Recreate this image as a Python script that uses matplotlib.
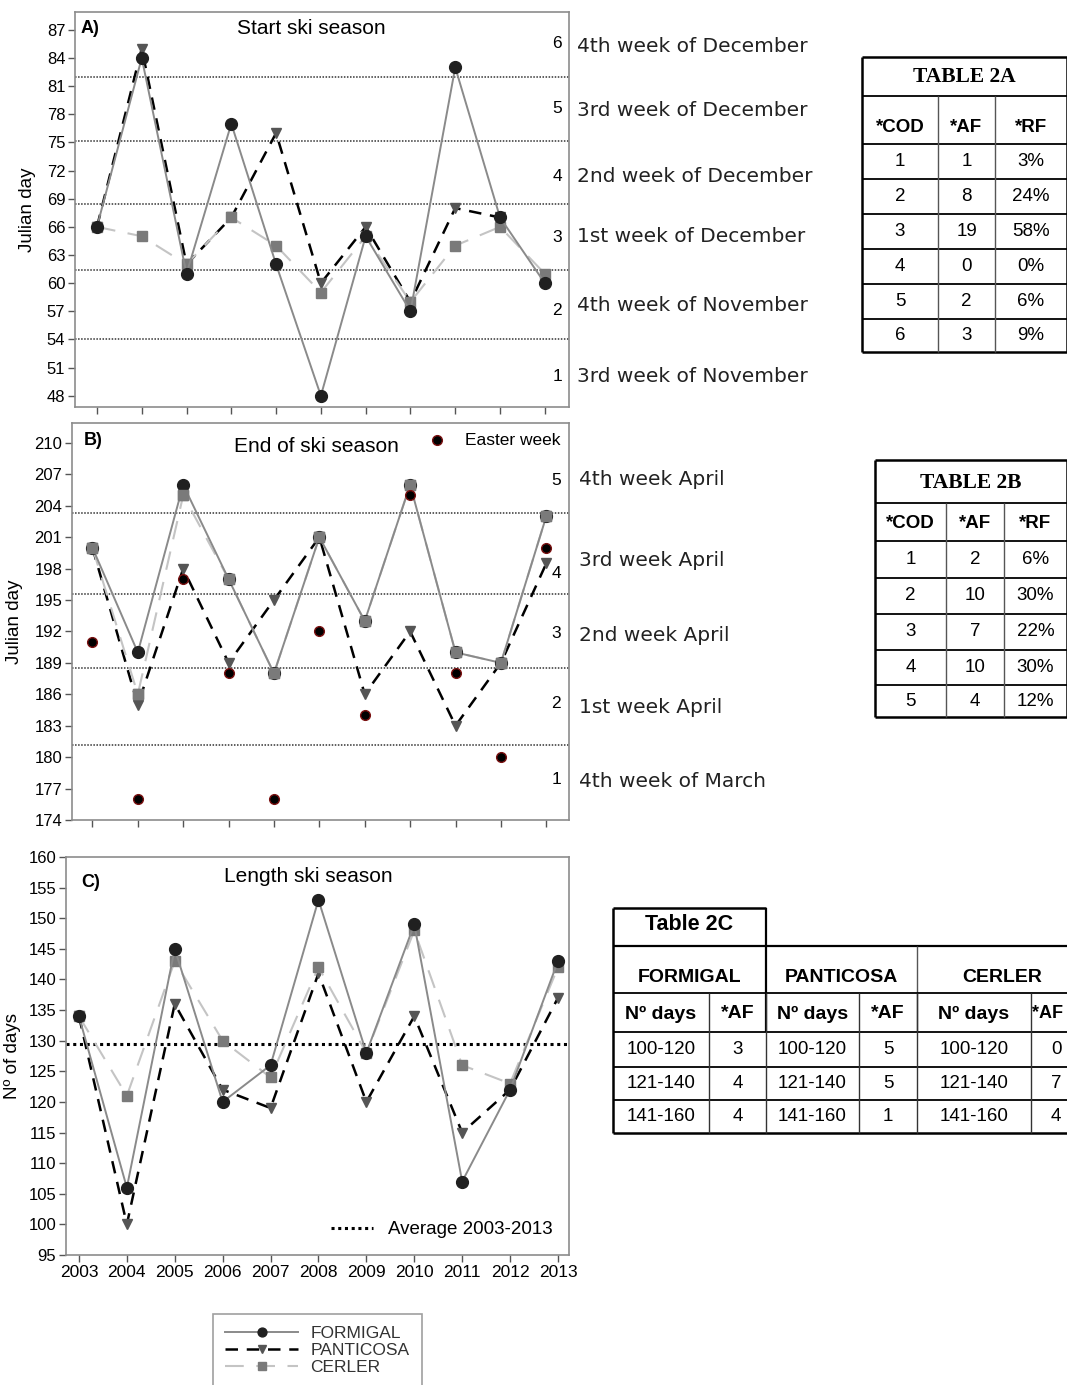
import numpy as np
import matplotlib
matplotlib.use("Agg")
import matplotlib.pyplot as plt
import matplotlib.transforms as mtransforms

# ---------------- data ----------------
years = list(range(2003, 2014))

start_formigal = [66, 84, 61, 77, 62, 48, 65, 57, 83, 67, 60]
start_panticosa = [66, 85, 62, 67, 76, 60, 66, 58, 68, 67, np.nan]
start_cerler = [66, 65, 62, 67, 64, 59, 65, 58, 64, 66, 61]

end_formigal = [200, 190, 206, 197, 188, 201, 193, 206, 190, 189, 203]
end_panticosa = [200, 185, 198, 189, 195, 201, 186, 192, 183, 189, 198.5]
end_cerler = [200, 186, 205, 197, 188, 201, 193, 206, 190, 189, 203]
easter = [191, 176, 197, 188, 176, 192, 184, 205, 188, 180, 200]

len_formigal = [134, 106, 145, 120, 126, 153, 128, 149, 107, 122, 143]
len_panticosa = [134, 100, 136, 122, 119, 141, 120, 134, 115, 122, 137]
len_cerler = [134, 121, 143, 130, 124, 142, 128, 148, 126, 123, 142]
len_average = 129.4

start_week_bounds = [54, 61.4, 68.4, 75.2, 82]
start_codes = ["1", "2", "3", "4", "5", "6"]
start_code_y = [50.0, 57.1, 64.9, 71.4, 78.6, 85.5]
start_week_labels = ["3rd week of November", "4th week of November", "1st week of December",
                     "2nd week of December", "3rd week of December", "4th week of December"]
start_label_y = [50.1, 57.6, 65.0, 71.4, 78.4, 85.2]

end_week_bounds = [181.2, 188.5, 195.6, 203.3]
end_codes = ["1", "2", "3", "4", "5"]
end_code_y = [177.9, 185.1, 191.8, 197.5, 206.4]
end_week_labels = ["4th week of March", "1st week April", "2nd week April", "3rd week April", "4th week April"]
end_label_y = [177.7, 184.7, 191.6, 198.8, 206.5]

start_yticks = list(range(48, 88, 3))
end_yticks = list(range(174, 211, 3))
len_yticks = list(range(95, 161, 5))

t2a_cod = ["1", "2", "3", "4", "5", "6"]
t2a_af = ["1", "8", "19", "0", "2", "3"]
t2a_rf = ["3%", "24%", "58%", "0%", "6%", "9%"]

t2b_cod = ["1", "2", "3", "4", "5"]
t2b_af = ["2", "10", "7", "10", "4"]
t2b_rf = ["6%", "30%", "22%", "30%", "12%"]

t2c_resorts = ["FORMIGAL", "PANTICOSA", "CERLER"]
t2c_ranges = ["100-120", "121-140", "141-160"]
t2c_formigal = ["3", "4", "4"]
t2c_panticosa = ["5", "5", "1"]
t2c_cerler = ["0", "7", "4"]

# ---------------- style ----------------
NARROW = ["Liberation Sans Narrow", "Liberation Sans", "DejaVu Sans"]
ARIAL = ["Liberation Sans", "DejaVu Sans"]
SERIF = ["Liberation Serif", "DejaVu Serif"]

W, H = 1067, 1385
fig = plt.figure(figsize=(W / 100, H / 100), dpi=100)

def px_axes(l, t, r, b):
    return fig.add_axes([l / W, 1 - b / H, (r - l) / W, (b - t) / H])

axA = px_axes(75, 12, 569, 407)
axB = px_axes(72, 423, 569, 820)
axC = px_axes(66, 857, 569, 1255)

sF = dict(color="#8a8a8a", lw=1.4, ls="-", marker="o", ms=8.5, mfc="#202020", mec="#202020", zorder=4)
sP = dict(color="black", lw=1.8, ls=(0, (5, 3.5)), marker="v", ms=7.5, mfc="#555555", mec="#555555", zorder=3)
sC = dict(color="#c4c4c4", lw=1.5, ls=(0, (9, 6)), marker="s", ms=7, mfc="#7a7a7a", mec="#7a7a7a", zorder=3.5)

def style_axes(ax, yticks, ylim, xlim, xlabels):
    ax.set_ylim(*ylim)
    ax.set_xlim(*xlim)
    ax.set_yticks(yticks)
    ax.set_xticks(years)
    for s in ax.spines.values():
        s.set_color("#8c8c8c")
        s.set_linewidth(1.2)
    ax.tick_params(axis="both", direction="out", length=5, width=1, color="#555555",
                   labelsize=12, pad=2)
    for lab in ax.get_yticklabels():
        lab.set_fontfamily(NARROW)
    if xlabels:
        ax.set_xticklabels([str(y) for y in years], fontfamily=NARROW, fontsize=12.5)
    else:
        ax.set_xticklabels([])

# ---------- Panel A ----------
style_axes(axA, start_yticks, (46.8, 88.9), (2002.51, 2013.54), False)
for yb in start_week_bounds:
    axA.axhline(yb, color="#333333", lw=1.1, ls=(0, (1, 1)), zorder=1)
axA.plot(years, start_cerler, **sC)
axA.plot(years, start_panticosa, **sP)
axA.plot(years, start_formigal, **sF)
axA.set_ylabel("Julian day", fontfamily=ARIAL, fontsize=13.5, labelpad=8)
axA.text(0.012, 0.957, "A)", transform=axA.transAxes, fontfamily=ARIAL, fontsize=13,
         fontweight="bold", va="center")
axA.text(0.478, 0.957, "Start ski season", transform=axA.transAxes, fontfamily=NARROW,
         fontsize=15, ha="center", va="center")
trA = mtransforms.blended_transform_factory(axA.transAxes, axA.transData)
for c, y in zip(start_codes, start_code_y):
    axA.text(0.976, y, c, transform=trA, fontsize=12.5, ha="center", va="center", fontfamily=ARIAL)
for lab, y in zip(start_week_labels, start_label_y):
    axA.text(1.017, y, lab, transform=trA, fontsize=14.5, ha="left", va="center",
             fontfamily="DejaVu Sans", clip_on=False, color="#222222")

# ---------- Panel B ----------
style_axes(axB, end_yticks, (174, 211.9), (2002.55, 2013.5), False)
for yb in end_week_bounds:
    axB.axhline(yb, color="#333333", lw=1.1, ls=(0, (1, 1)), zorder=1)
axB.plot(years, end_cerler, **sC)
axB.plot(years, end_panticosa, **sP)
axB.plot(years, end_formigal, **sF)
axB.plot(years, end_cerler, ls="none", marker="s", ms=7,
         mfc="#7a7a7a", mec="#7a7a7a", zorder=4.5)
axB.plot(years, easter, ls="none", marker="o", ms=7, mfc="black", mec="#7a1010", mew=1.0, zorder=5)
axB.set_ylabel("Julian day", fontfamily=ARIAL, fontsize=13.5, labelpad=8)
axB.text(0.024, 0.955, "B)", transform=axB.transAxes, fontfamily=ARIAL, fontsize=13,
         fontweight="bold", va="center")
axB.text(0.491, 0.94, "End of ski season", transform=axB.transAxes, fontfamily=NARROW,
         fontsize=15, ha="center", va="center")
axB.plot([0.734], [0.957], transform=axB.transAxes, ls="none", marker="o", ms=7,
         mfc="black", mec="#7a1010", mew=1.0)
axB.text(0.79, 0.957, "Easter week", transform=axB.transAxes, fontfamily=NARROW,
         fontsize=12.5, ha="left", va="center")
trB = mtransforms.blended_transform_factory(axB.transAxes, axB.transData)
for c, y in zip(end_codes, end_code_y):
    axB.text(0.974, y, c, transform=trB, fontsize=12.5, ha="center", va="center", fontfamily=ARIAL)
for lab, y in zip(end_week_labels, end_label_y):
    axB.text(1.02, y, lab, transform=trB, fontsize=14.5, ha="left", va="center",
             fontfamily="DejaVu Sans", clip_on=False, color="#222222")

# ---------- Panel C ----------
style_axes(axC, len_yticks, (95, 160), (2002.73, 2013.23), True)
avg_line = axC.axhline(len_average, color="black", lw=2.2, ls=(0, (1, 1.2)), zorder=1,
                       label="Average 2003-2013")
lC, = axC.plot(years, len_cerler, label="CERLER", **sC)
lP, = axC.plot(years, len_panticosa, label="PANTICOSA", **sP)
lF, = axC.plot(years, len_formigal, label="FORMIGAL", **sF)
axC.set_ylabel("Nº of days", fontfamily=ARIAL, fontsize=13.5, labelpad=5)
axC.text(0.03, 0.935, "C)", transform=axC.transAxes, fontfamily=ARIAL, fontsize=13,
         fontweight="bold", va="center")
axC.text(0.481, 0.952, "Length ski season", transform=axC.transAxes, fontfamily=NARROW,
         fontsize=15, ha="center", va="center")
axC.legend(handles=[avg_line], loc="lower right", frameon=False,
           prop={"family": NARROW, "size": 13.5}, handlelength=2.2, borderaxespad=0.5)

# bottom legend
leg = fig.legend(handles=[lF, lP, lC], labels=["FORMIGAL", "PANTICOSA", "CERLER"],
                 loc="upper left", bbox_to_anchor=(213 / W, 1 - 1314 / H),
                 prop={"family": ARIAL, "size": 12.5}, frameon=True, fancybox=False,
                 edgecolor="#888888", handlelength=4.2, labelspacing=0.1,
                 borderpad=0.7, borderaxespad=0, handletextpad=0.7, markerscale=0.75)
leg.get_frame().set_linewidth(1.2)
for t in leg.get_texts():
    t.set_color("#333333")

# ---------------- tables (overlay in pixel coords) ----------------
ov = fig.add_axes([0, 0, 1, 1])
ov.set_xlim(0, W)
ov.set_ylim(H, 0)
ov.axis("off")

def hl(y, x0, x1, lw=1.3):
    ov.plot([x0, x1], [y, y], color="black", lw=lw, solid_capstyle="butt")

def vl(x, y0, y1, lw=1.3, color="black"):
    ov.plot([x, x], [y0, y1], color=color, lw=lw, solid_capstyle="butt")

def txt(x, y, s, **kw):
    kw.setdefault("fontfamily", ARIAL)
    kw.setdefault("fontsize", 13.5)
    ov.text(x, y, s, ha="center", va="center", **kw)

def simple_table(title, x_cols, y_title, y_head, row_edges, cods, afs, rfs):
    x0, x1 = x_cols[0], x_cols[-1]
    hl(y_title, x0, x1, 1.8)
    hl(y_head, x0, x1, 1.3)
    for y in row_edges[:-1]:
        hl(y, x0, x1, 1.3)
    hl(row_edges[-1], x0, x1, 1.8)
    vl(x0, y_title, row_edges[-1], 1.8)
    vl(x1 - 0.5, y_title, row_edges[-1], 1.8)
    for x in x_cols[1:-1]:
        vl(x, y_head, row_edges[-1], 1.0, "#555555")
    txt((x0 + x1) / 2, (y_title + y_head) / 2 + 1, title, fontfamily=SERIF, fontsize=15.5,
        fontweight="bold")
    heads = ["*COD", "*AF", "*RF"]
    for i, h in enumerate(heads):
        txt((x_cols[i] + x_cols[i + 1]) / 2, row_edges[0] - 17, h, fontweight="bold")
    for r in range(len(cods)):
        yc = (row_edges[r] + row_edges[r + 1]) / 2
        for i, v in enumerate([cods[r], afs[r], rfs[r]]):
            txt((x_cols[i] + x_cols[i + 1]) / 2, yc, v)

simple_table("TABLE 2A", [862, 938, 995, 1067], 57, 96,
             [144, 179, 214, 249, 284, 319, 352], t2a_cod, t2a_af, t2a_rf)
simple_table("TABLE 2B", [875, 946, 1004, 1067], 460, 503,
             [541, 578, 614, 650, 685, 717], t2b_cod, t2b_af, t2b_rf)

# Table 2C
cx = [613, 709, 766, 859, 917, 1031, 1090]
hl(908, 613, 766, 1.8)
vl(613, 908, 1133, 1.8)
vl(766, 908, 1032, 1.6)
hl(946, 613, W, 1.6)
vl(917, 946, 1032, 1.0, "#555555")
hl(993, 613, W, 1.3)
hl(1032, 613, W, 1.3)
hl(1067, 613, W, 1.3)
hl(1100, 613, W, 1.3)
hl(1133, 613, W, 1.8)
for x in [709, 766, 859, 917, 1031]:
    vl(x, 993, 1133, 1.0, "#333333")
txt(689, 925, "Table 2C", fontsize=15.5, fontweight="bold")
for i, name in enumerate(t2c_resorts):
    txt((cx[2 * i] + cx[2 * i + 2]) / 2 if i < 2 else 1002, 978, name, fontsize=14,
        fontweight="bold")
sub_rows = [(1032, 1067), (1067, 1100), (1100, 1133)]
for i, afs in enumerate([t2c_formigal, t2c_panticosa, t2c_cerler]):
    xa, xb, xc = cx[2 * i], cx[2 * i + 1], cx[2 * i + 2]
    txt((xa + xb) / 2, 1014, "Nº days", fontsize=14, fontweight="bold")
    txt((xb + xc) / 2 if i < 2 else 1048, 1014, "*AF", fontsize=14 if i < 2 else 13,
        fontweight="bold")
    for r, (y0, y1) in enumerate(sub_rows):
        txt((xa + xb) / 2, (y0 + y1) / 2, t2c_ranges[r])
        txt((xb + xc) / 2 if i < 2 else 1056, (y0 + y1) / 2, afs[r])

fig.savefig("out.png", dpi=100)
